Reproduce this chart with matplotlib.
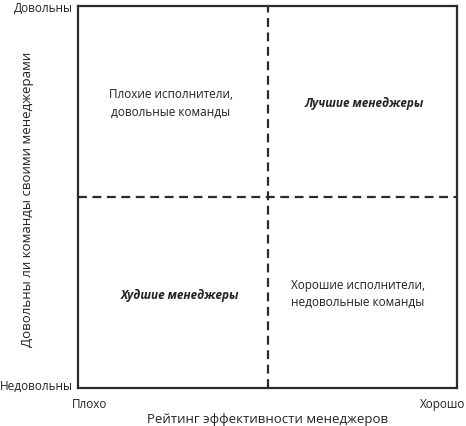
import matplotlib
matplotlib.use("Agg")
import matplotlib.pyplot as plt
import matplotlib.transforms as mtransforms

plt.rcParams['font.family'] = ['Open Sans', 'DejaVu Sans']

x_ticks = ["Плохо", "Хорошо"]
y_ticks = ["Недовольны", "Довольны"]
x_label = "Рейтинг эффективности менеджеров"
y_label = "Довольны ли команды своими менеджерами"
quad_text = ["Плохие исполнители,\nдовольные команды", "Лучшие менеджеры",
             "Худшие менеджеры", "Хорошие исполнители,\nнедовольные команды"]
quad_x = [0.245, 0.755, 0.268, 0.739]
quad_y = [0.745, 0.745, 0.243, 0.246]
quad_bold = [False, True, True, False]

fig = plt.figure(figsize=(4.66, 4.26), dpi=100)
ax = fig.add_axes([78/466, 1-388/426, (457-78)/466, (388-6)/426])
ax.set_xlim(0, 1)
ax.set_ylim(0, 1)
col = '#2b2b2b'
for s in ax.spines.values():
    s.set_linewidth(1.6)
    s.set_color(col)
ax.axvline(0.5, color=col, lw=1.6, ls=(0, (4, 2.5)))
ax.axhline(0.5, color=col, lw=1.6, ls=(0, (4, 2.5)))

ax.set_xticks([0, 1], x_ticks, fontsize=8.5, color='#222')
ax.set_yticks([0, 1], y_ticks, fontsize=8.5, color='#222')
ax.tick_params(axis='x', length=0, pad=7)
ax.tick_params(axis='y', length=0, pad=4)
dpi_t = fig.dpi_scale_trans
xl = ax.get_xticklabels()
xl[0].set_ha('left'); xl[1].set_ha('right')
xl[0].set_transform(xl[0].get_transform() + mtransforms.ScaledTranslation(-6/100, 0, dpi_t))
xl[1].set_transform(xl[1].get_transform() + mtransforms.ScaledTranslation(8/100, 0, dpi_t))
yl = ax.get_yticklabels()
yl[0].set_transform(yl[0].get_transform() + mtransforms.ScaledTranslation(0, 3/100, dpi_t))
yl[1].set_transform(yl[1].get_transform() + mtransforms.ScaledTranslation(0, -1/100, dpi_t))

ax.set_xlabel(x_label, fontsize=9.5, color='#222')
ax.set_ylabel(y_label, fontsize=9.5, color='#222')
ax.xaxis.set_label_coords(0.5, -24.5/382)
ax.yaxis.set_label_coords(-44/379, 0.495)

for t, x, y, b in zip(quad_text, quad_x, quad_y, quad_bold):
    ax.text(x, y, t, ha='center', va='center', fontsize=8.5, color='#222',
            fontweight='bold' if b else 'normal', fontstyle='italic' if b else 'normal',
            linespacing=1.45)

fig.savefig("out.png", dpi=100)
